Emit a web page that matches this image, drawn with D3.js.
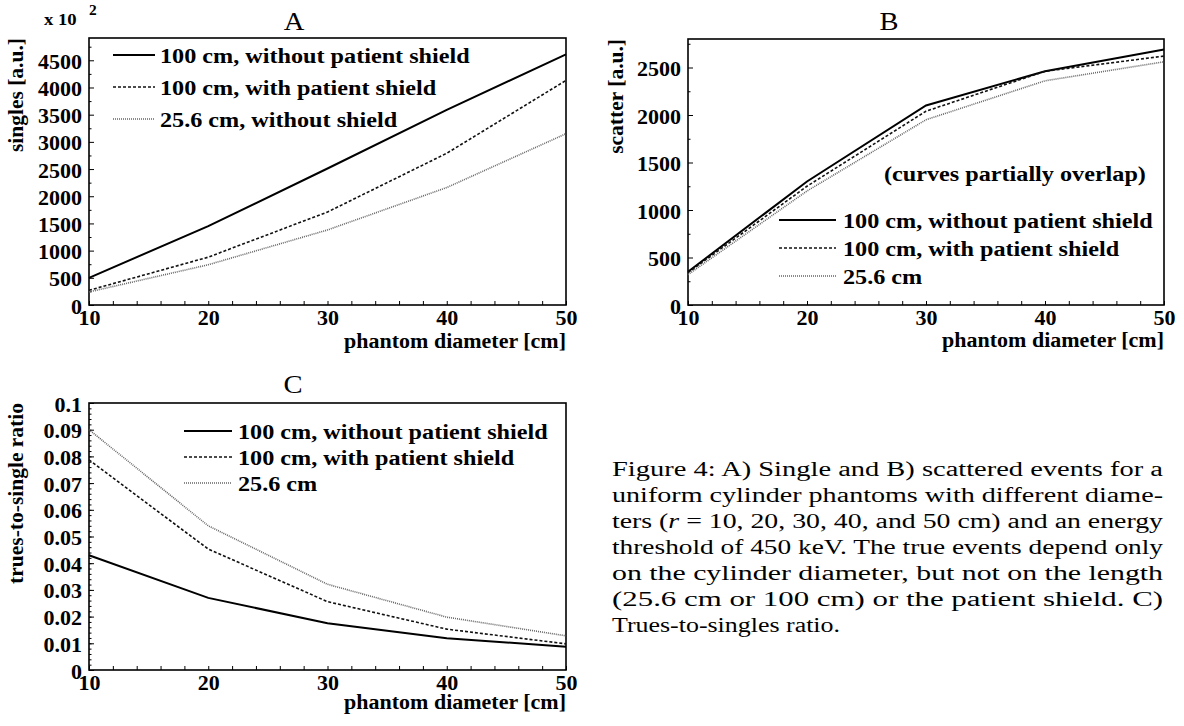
<!DOCTYPE html>
<html>
<head>
<meta charset="utf-8">
<script src="https://cdn.jsdelivr.net/npm/d3@7"></script>
<style>
  body { margin: 0; background: #fff; }
  svg { display: block; }
  svg text { font-family: "Liberation Serif", "Times New Roman", Times, "Nimbus Roman", serif; }
</style>
</head>
<body>
<svg width="1184" height="726"></svg>
<script>
// phantom diameters (x values, cm)
var diameters = [10, 20, 30, 40, 50];
var xTickValues = [10, 20, 30, 40, 50];

// A) singles, in units of 10^2
var singlesNoShield = [500, 1450, 2510, 3590, 4610];
var singlesShield = [270, 880, 1710, 2790, 4130];
var singles256 = [240, 740, 1380, 2160, 3150];
var singlesTicks = [0, 500, 1000, 1500, 2000, 2500, 3000, 3500, 4000, 4500];

// B) scatter
var scatterNoShield = [350, 1300, 2100, 2460, 2690];
var scatterShield = [340, 1250, 2040, 2460, 2620];
var scatter256 = [320, 1200, 1950, 2360, 2560];
var scatterTicks = [0, 500, 1000, 1500, 2000, 2500];

// C) trues-to-single ratio
var ratioNoShield = [0.043, 0.027, 0.0175, 0.0119, 0.0087];
var ratioShield = [0.0787, 0.0453, 0.0256, 0.0153, 0.0098];
var ratio256 = [0.090, 0.054, 0.0321, 0.0198, 0.0128];
var ratioTicks = [0, 0.01, 0.02, 0.03, 0.04, 0.05, 0.06, 0.07, 0.08, 0.09, 0.1];
var ratioTickLabels = ["0", "0.01", "0.02", "0.03", "0.04", "0.05", "0.06", "0.07", "0.08", "0.09", "0.1"];

var legendA = ["100 cm, without patient shield", "100 cm, with patient shield", "25.6 cm, without shield"];
var legendBC = ["100 cm, without patient shield", "100 cm, with patient shield", "25.6 cm"];

var captionLines = [
  ["Figure 4: A) Single and B) scattered events for a"],
  ["uniform cylinder phantoms with different diame-"],
  ["ters (", "r", " = 10, 20, 30, 40, and 50 cm) and an energy"],
  ["threshold of 450 keV. The true events depend only"],
  ["on the cylinder diameter, but not on the length"],
  ["(25.6 cm or 100 cm) or the patient shield.  C)"],
  ["Trues-to-singles ratio."]
];

// line styles for the three series
var styles = [
  {stroke: "#000", width: 2, dash: null},
  {stroke: "#111", width: 1.6, dash: "3,2"},
  {stroke: "#666", width: 1.6, dash: "1,1"}
];

var svg = d3.select("svg");
var STRETCH = 1.1; // glyphs in the picture are a bit wider than Times

// text helper: put text at x,y and stretch it horizontally
function addText(g, x, y, str, size, weight, anchor) {
  return g.append("text")
    .attr("transform", "translate(" + x + "," + y + ") scale(" + STRETCH + ",1)")
    .attr("font-size", size)
    .attr("font-weight", weight)
    .attr("text-anchor", anchor)
    .attr("fill", "#000")
    .text(str);
}

var drawPanel = function(cfg) {
  var g = svg.append("g");
  var x = d3.scaleLinear().domain([10, 50]).range([cfg.left, cfg.right]);
  var y = d3.scaleLinear().domain([0, cfg.yMax]).range([cfg.bottom, cfg.top]);

  // x axis: minor ticks every 2 cm, labels at the decades
  var xMinor = d3.range(10, 51, 2);
  var xAxis = d3.axisBottom(x)
    .tickValues(xMinor)
    .tickSize(-4)
    .tickPadding(6)
    .tickFormat(function(d) { return xTickValues.indexOf(d) >= 0 ? d : ""; });
  var xg = g.append("g").attr("transform", "translate(0," + cfg.bottom + ")").call(xAxis);

  // y axis minor ticks
  var yMinorAxis = d3.axisLeft(y).tickValues(cfg.yMinor).tickSize(-2.5).tickFormat("");
  var ymg = g.append("g").attr("transform", "translate(" + cfg.left + ",0)").call(yMinorAxis);

  // y axis major ticks with labels
  var yAxis = d3.axisLeft(y)
    .tickValues(cfg.yTicks)
    .tickSize(-5)
    .tickPadding(6.4)
    .tickFormat(function(d, i) { return cfg.yLabels[i]; });
  var yg = g.append("g").attr("transform", "translate(" + cfg.left + ",0)").call(yAxis);

  [xg, ymg, yg].forEach(function(ax) {
    ax.attr("font-family", null);
    ax.select(".domain").remove();
    ax.selectAll("line").attr("stroke", "#000").attr("stroke-width", 1);
    ax.selectAll("text")
      .attr("font-size", 20)
      .attr("font-weight", "bold")
      .attr("fill", "#000");
  });
  xg.selectAll("text").attr("transform", "scale(" + STRETCH + ",1)");
  yg.selectAll("text")
    .attr("dy", "0.4em")
    .attr("transform", "scale(" + STRETCH + ",1)");

  // frame
  g.append("rect")
    .attr("x", cfg.left).attr("y", cfg.top)
    .attr("width", cfg.right - cfg.left).attr("height", cfg.bottom - cfg.top)
    .attr("fill", "none").attr("stroke", "#000").attr("stroke-width", 1.6);

  // curves
  var line = d3.line()
    .x(function(d, i) { return x(diameters[i]); })
    .y(function(d) { return y(d); });
  cfg.series.forEach(function(s, i) {
    g.append("path")
      .datum(s)
      .attr("d", line)
      .attr("fill", "none")
      .attr("stroke", styles[i].stroke)
      .attr("stroke-width", styles[i].width)
      .attr("stroke-dasharray", styles[i].dash);
  });

  // legend
  cfg.legend.forEach(function(name, i) {
    var ly = cfg.legendY[i];
    g.append("line")
      .attr("x1", cfg.legendX[0]).attr("x2", cfg.legendX[1])
      .attr("y1", ly).attr("y2", ly)
      .attr("stroke", styles[i].stroke)
      .attr("stroke-width", styles[i].width)
      .attr("stroke-dasharray", styles[i].dash);
    addText(g, cfg.legendX[2], ly + 8, name, 22, "bold", "start");
  });

  // axis titles
  addText(g, cfg.right, cfg.xTitleY, "phantom diameter [cm]", 20, "bold", "end");
  g.append("text")
    .attr("transform", "translate(" + cfg.yTitleX + "," + cfg.top + ") rotate(-90)")
    .attr("font-size", 21.5)
    .attr("font-weight", "bold")
    .attr("text-anchor", "end")
    .text(cfg.yTitle);

  // panel letter
  addText(g, cfg.titleX, cfg.titleY, cfg.title, 26, "normal", "middle");
  return g;
};

drawPanel({
  left: 89, right: 566, top: 38, bottom: 305, yMax: 4910,
  yTicks: singlesTicks, yLabels: singlesTicks.map(String),
  yMinor: d3.range(250, 4900, 500),
  series: [singlesNoShield, singlesShield, singles256],
  legend: legendA, legendX: [113, 155, 160], legendY: [55, 87, 119],
  xTitleY: 348, yTitleX: 23, yTitle: "singles [a.u.]",
  title: "A", titleX: 294, titleY: 30
});
// "x 10^2" multiplier of panel A
addText(svg, 44, 25, "x 10", 17, "bold", "start");
addText(svg, 89, 15, "2", 14, "bold", "start");

var pb = drawPanel({
  left: 688, right: 1164, top: 39, bottom: 305, yMax: 2800,
  yTicks: scatterTicks, yLabels: scatterTicks.map(String),
  yMinor: d3.range(250, 2800, 500),
  series: [scatterNoShield, scatterShield, scatter256],
  legend: legendBC, legendX: [779, 836, 843], legendY: [220, 248, 276],
  xTitleY: 347, yTitleX: 623, yTitle: "scatter [a.u.]",
  title: "B", titleX: 889, titleY: 30
});
addText(pb, 884, 181, "(curves partially overlap)", 22, "bold", "start");

drawPanel({
  left: 89, right: 566, top: 403, bottom: 670, yMax: 0.1,
  yTicks: ratioTicks, yLabels: ratioTickLabels,
  yMinor: d3.range(0.002, 0.1, 0.002),
  series: [ratioNoShield, ratioShield, ratio256],
  legend: legendBC, legendX: [184, 232, 238], legendY: [431, 457, 483],
  xTitleY: 709, yTitleX: 23, yTitle: "trues-to-single ratio",
  title: "C", titleX: 293, titleY: 393
});

// figure caption, justified like the paper
var cap = svg.append("g").attr("font-size", 20);
captionLines.forEach(function(parts, i) {
  var last = i === captionLines.length - 1;
  var t = cap.append("text")
    .attr("x", 612)
    .attr("y", 476 + i * 26)
    .attr("textLength", last ? 228 : 551)
    .attr("lengthAdjust", "spacingAndGlyphs");
  parts.forEach(function(p, j) {
    t.append("tspan")
      .attr("font-style", (parts.length > 1 && j === 1) ? "italic" : "normal")
      .text(p);
  });
});
</script>
</body>
</html>
